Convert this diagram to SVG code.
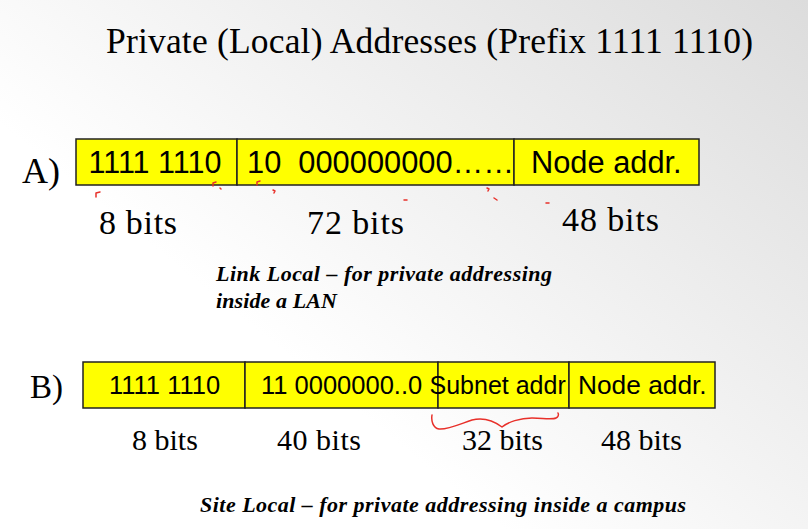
<svg xmlns="http://www.w3.org/2000/svg" width="808" height="529" viewBox="0 0 808 529">
<defs>
<linearGradient id="bg" gradientUnits="userSpaceOnUse" x1="808" y1="0" x2="430" y2="470">
<stop offset="0" stop-color="#dcdcdc"/>
<stop offset="1" stop-color="#ffffff"/>
</linearGradient>
<style>
.serif{font-family:"Liberation Serif","Times New Roman",serif;fill:#000}
.sans{font-family:"Liberation Sans",Arial,sans-serif;fill:#000}
.bi{font-family:"Liberation Serif","Times New Roman",serif;font-weight:bold;font-style:italic;fill:#000}
.field{fill:#ffff00;stroke:#222;stroke-width:1.5}
.ink{fill:none;stroke:#e8302a;stroke-width:1.5;stroke-linecap:round;stroke-linejoin:round}
</style>
</defs>
<rect width="808" height="529" fill="url(#bg)"/>
<text class="serif" x="106" y="53" font-size="35.5" textLength="647">Private (Local) Addresses (Prefix 1111 1110)</text>

<g id="rowA">
<text class="serif" x="22" y="183" font-size="36">A)</text>
<g id="A-prefix">
<rect class="field" x="76" y="139" width="161" height="46"/>
<text class="sans" x="88.5" y="173" font-size="30.5">1111 1110</text>
</g>
<g id="A-zeros">
<rect class="field" x="237" y="139" width="277" height="46"/>
<text class="sans" x="247" y="173" font-size="30.8">10&#160; 000000000……</text>
</g>
<g id="A-node">
<rect class="field" x="514" y="139" width="185" height="46"/>
<text class="sans" x="531" y="173" font-size="30.8">Node addr.</text>
</g>
<text class="serif" x="99" y="234" font-size="34" textLength="78">8 bits</text>
<text class="serif" x="307" y="234" font-size="34" textLength="97">72 bits</text>
<text class="serif" x="562" y="231" font-size="34" textLength="97">48 bits</text>
<text class="bi" font-size="22"><tspan x="216" y="281" textLength="336">Link Local – for private addressing</tspan><tspan x="216" y="308" textLength="121">inside a LAN</tspan></text>
</g>

<g id="rowB">
<text class="serif" x="30" y="398" font-size="33">B)</text>
<g id="B-prefix">
<rect class="field" x="83" y="362" width="162" height="46"/>
<text class="sans" x="109" y="394" font-size="25.5">1111 1110</text>
</g>
<g id="B-zeros">
<rect class="field" x="245" y="362" width="193" height="46"/>
<text class="sans" x="261" y="394" font-size="25.5">11 0000000..0</text>
</g>
<g id="B-subnet">
<rect class="field" x="438" y="362" width="131" height="46"/>
</g>
<g id="B-node">
<rect class="field" x="569" y="362" width="146" height="46"/>
<text class="sans" x="578" y="394" font-size="26.3">Node addr.</text>
</g>
<text class="sans" x="429.5" y="394" font-size="25">Subnet addr</text>
<text class="serif" x="132" y="450" font-size="30">8 bits</text>
<text class="serif" x="277" y="450" font-size="30" textLength="84">40 bits</text>
<text class="serif" x="462" y="450" font-size="30">32 bits</text>
<text class="serif" x="601" y="450" font-size="30">48 bits</text>
<text class="bi" x="200" y="512" font-size="22" textLength="486">Site Local – for private addressing inside a campus</text>
</g>

<g id="connectors">
<path class="ink" d="M96,197 L96,193 L100,192"/>
<path class="ink" d="M213,186 L213,183 L216,182"/>
<path class="ink" d="M220,188 L221,189"/>
<path class="ink" d="M257,185 L257,182 L260,181"/>
<path class="ink" d="M273,190 L275,191 L274,193"/>
<path class="ink" d="M404,200 L407,200"/>
<path class="ink" d="M487,188 L489,189 L488,191"/>
<path class="ink" d="M494,198 L497,200"/>
<path class="ink" d="M546,203 L549,203"/>
<path class="ink" d="M432,415 C431,421 433,428 439,429 C447,430 460,424 472,420 C484,417 494,421 502,427 C508,422 520,418 532,418 C542,418 552,420 556,418 C558,417 559,415 558,413"/>
</g>
</svg>
